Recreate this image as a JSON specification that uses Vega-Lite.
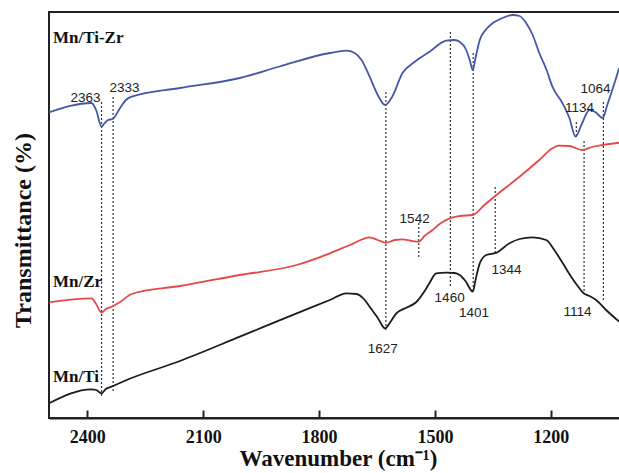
{
  "$schema": "https://vega.github.io/schema/vega-lite/v6.json",
  "autosize": {"type": "none"},
  "padding": {"left": 49, "top": 12, "right": 0, "bottom": 55},
  "width": 571,
  "height": 406,
  "background": "white",
  "config": {
    "view": {"stroke": "#222", "strokeWidth": 2},
    "font": "Liberation Serif"
  },
  "datasets": {
    "curves": [
      {"w": 2499, "t": 305.6, "series": "Mn/Ti-Zr"},
      {"w": 2389, "t": 315, "series": "Mn/Ti-Zr"},
      {"w": 2377, "t": 308, "series": "Mn/Ti-Zr"},
      {"w": 2363, "t": 291.3, "series": "Mn/Ti-Zr"},
      {"w": 2357, "t": 294, "series": "Mn/Ti-Zr"},
      {"w": 2346, "t": 298, "series": "Mn/Ti-Zr"},
      {"w": 2334, "t": 299, "series": "Mn/Ti-Zr"},
      {"w": 2315, "t": 310, "series": "Mn/Ti-Zr"},
      {"w": 2300, "t": 318, "series": "Mn/Ti-Zr"},
      {"w": 2285, "t": 321.3, "series": "Mn/Ti-Zr"},
      {"w": 2160, "t": 330, "series": "Mn/Ti-Zr"},
      {"w": 2005, "t": 340, "series": "Mn/Ti-Zr"},
      {"w": 1902, "t": 351.5, "series": "Mn/Ti-Zr"},
      {"w": 1772, "t": 365, "series": "Mn/Ti-Zr"},
      {"w": 1729, "t": 367.3, "series": "Mn/Ti-Zr"},
      {"w": 1708, "t": 365, "series": "Mn/Ti-Zr"},
      {"w": 1690, "t": 358, "series": "Mn/Ti-Zr"},
      {"w": 1669, "t": 341.3, "series": "Mn/Ti-Zr"},
      {"w": 1648, "t": 323, "series": "Mn/Ti-Zr"},
      {"w": 1629, "t": 313, "series": "Mn/Ti-Zr"},
      {"w": 1611, "t": 321, "series": "Mn/Ti-Zr"},
      {"w": 1584, "t": 345, "series": "Mn/Ti-Zr"},
      {"w": 1553, "t": 356, "series": "Mn/Ti-Zr"},
      {"w": 1514, "t": 366.3, "series": "Mn/Ti-Zr"},
      {"w": 1471, "t": 377.3, "series": "Mn/Ti-Zr"},
      {"w": 1449, "t": 378, "series": "Mn/Ti-Zr"},
      {"w": 1436, "t": 376.3, "series": "Mn/Ti-Zr"},
      {"w": 1419, "t": 368, "series": "Mn/Ti-Zr"},
      {"w": 1410, "t": 358, "series": "Mn/Ti-Zr"},
      {"w": 1402, "t": 348, "series": "Mn/Ti-Zr"},
      {"w": 1395, "t": 360, "series": "Mn/Ti-Zr"},
      {"w": 1384, "t": 378, "series": "Mn/Ti-Zr"},
      {"w": 1369, "t": 388, "series": "Mn/Ti-Zr"},
      {"w": 1351, "t": 394.7, "series": "Mn/Ti-Zr"},
      {"w": 1325, "t": 400, "series": "Mn/Ti-Zr"},
      {"w": 1299, "t": 403, "series": "Mn/Ti-Zr"},
      {"w": 1281, "t": 402, "series": "Mn/Ti-Zr"},
      {"w": 1264, "t": 395, "series": "Mn/Ti-Zr"},
      {"w": 1247, "t": 383, "series": "Mn/Ti-Zr"},
      {"w": 1230, "t": 365, "series": "Mn/Ti-Zr"},
      {"w": 1211, "t": 348, "series": "Mn/Ti-Zr"},
      {"w": 1196, "t": 331.3, "series": "Mn/Ti-Zr"},
      {"w": 1170, "t": 315, "series": "Mn/Ti-Zr"},
      {"w": 1152, "t": 300, "series": "Mn/Ti-Zr"},
      {"w": 1136, "t": 281.3, "series": "Mn/Ti-Zr"},
      {"w": 1121, "t": 293, "series": "Mn/Ti-Zr"},
      {"w": 1100, "t": 308, "series": "Mn/Ti-Zr"},
      {"w": 1085, "t": 306, "series": "Mn/Ti-Zr"},
      {"w": 1066, "t": 300, "series": "Mn/Ti-Zr"},
      {"w": 1054, "t": 313, "series": "Mn/Ti-Zr"},
      {"w": 1041, "t": 328, "series": "Mn/Ti-Zr"},
      {"w": 1023, "t": 350, "series": "Mn/Ti-Zr"},

      {"w": 2499, "t": 115.7, "series": "Mn/Zr"},
      {"w": 2389, "t": 119.7, "series": "Mn/Zr"},
      {"w": 2377, "t": 114, "series": "Mn/Zr"},
      {"w": 2363, "t": 105.3, "series": "Mn/Zr"},
      {"w": 2352, "t": 109, "series": "Mn/Zr"},
      {"w": 2337, "t": 111.3, "series": "Mn/Zr"},
      {"w": 2315, "t": 116, "series": "Mn/Zr"},
      {"w": 2285, "t": 124, "series": "Mn/Zr"},
      {"w": 2160, "t": 132, "series": "Mn/Zr"},
      {"w": 2005, "t": 143, "series": "Mn/Zr"},
      {"w": 1858, "t": 153, "series": "Mn/Zr"},
      {"w": 1772, "t": 164.7, "series": "Mn/Zr"},
      {"w": 1720, "t": 173, "series": "Mn/Zr"},
      {"w": 1669, "t": 180.7, "series": "Mn/Zr"},
      {"w": 1648, "t": 178, "series": "Mn/Zr"},
      {"w": 1626, "t": 175.3, "series": "Mn/Zr"},
      {"w": 1604, "t": 178, "series": "Mn/Zr"},
      {"w": 1584, "t": 178.7, "series": "Mn/Zr"},
      {"w": 1560, "t": 177, "series": "Mn/Zr"},
      {"w": 1542, "t": 176.3, "series": "Mn/Zr"},
      {"w": 1527, "t": 182, "series": "Mn/Zr"},
      {"w": 1506, "t": 188, "series": "Mn/Zr"},
      {"w": 1488, "t": 194, "series": "Mn/Zr"},
      {"w": 1462, "t": 199.7, "series": "Mn/Zr"},
      {"w": 1436, "t": 202, "series": "Mn/Zr"},
      {"w": 1402, "t": 203, "series": "Mn/Zr"},
      {"w": 1372, "t": 213, "series": "Mn/Zr"},
      {"w": 1341, "t": 223, "series": "Mn/Zr"},
      {"w": 1281, "t": 241.3, "series": "Mn/Zr"},
      {"w": 1230, "t": 258, "series": "Mn/Zr"},
      {"w": 1196, "t": 269.7, "series": "Mn/Zr"},
      {"w": 1179, "t": 272.3, "series": "Mn/Zr"},
      {"w": 1153, "t": 272, "series": "Mn/Zr"},
      {"w": 1119, "t": 268, "series": "Mn/Zr"},
      {"w": 1094, "t": 271, "series": "Mn/Zr"},
      {"w": 1066, "t": 273, "series": "Mn/Zr"},
      {"w": 1023, "t": 275.3, "series": "Mn/Zr"},

      {"w": 2499, "t": 14.7, "series": "Mn/Ti"},
      {"w": 2389, "t": 28.7, "series": "Mn/Ti"},
      {"w": 2377, "t": 28, "series": "Mn/Ti"},
      {"w": 2363, "t": 24.7, "series": "Mn/Ti"},
      {"w": 2352, "t": 29, "series": "Mn/Ti"},
      {"w": 2337, "t": 31.3, "series": "Mn/Ti"},
      {"w": 2298, "t": 38, "series": "Mn/Ti"},
      {"w": 2160, "t": 57, "series": "Mn/Ti"},
      {"w": 2005, "t": 81.3, "series": "Mn/Ti"},
      {"w": 1858, "t": 104.7, "series": "Mn/Ti"},
      {"w": 1772, "t": 118, "series": "Mn/Ti"},
      {"w": 1729, "t": 124.7, "series": "Mn/Ti"},
      {"w": 1703, "t": 124, "series": "Mn/Ti"},
      {"w": 1684, "t": 119, "series": "Mn/Ti"},
      {"w": 1669, "t": 111.3, "series": "Mn/Ti"},
      {"w": 1648, "t": 100, "series": "Mn/Ti"},
      {"w": 1629, "t": 89.7, "series": "Mn/Ti"},
      {"w": 1617, "t": 95, "series": "Mn/Ti"},
      {"w": 1600, "t": 104.7, "series": "Mn/Ti"},
      {"w": 1576, "t": 110, "series": "Mn/Ti"},
      {"w": 1548, "t": 116, "series": "Mn/Ti"},
      {"w": 1530, "t": 125, "series": "Mn/Ti"},
      {"w": 1514, "t": 135, "series": "Mn/Ti"},
      {"w": 1497, "t": 144.7, "series": "Mn/Ti"},
      {"w": 1471, "t": 145.3, "series": "Mn/Ti"},
      {"w": 1449, "t": 145, "series": "Mn/Ti"},
      {"w": 1436, "t": 143, "series": "Mn/Ti"},
      {"w": 1421, "t": 137, "series": "Mn/Ti"},
      {"w": 1402, "t": 126.3, "series": "Mn/Ti"},
      {"w": 1395, "t": 138, "series": "Mn/Ti"},
      {"w": 1384, "t": 154.7, "series": "Mn/Ti"},
      {"w": 1367, "t": 163, "series": "Mn/Ti"},
      {"w": 1341, "t": 165.3, "series": "Mn/Ti"},
      {"w": 1307, "t": 174.7, "series": "Mn/Ti"},
      {"w": 1281, "t": 179, "series": "Mn/Ti"},
      {"w": 1247, "t": 180.7, "series": "Mn/Ti"},
      {"w": 1212, "t": 178, "series": "Mn/Ti"},
      {"w": 1191, "t": 168, "series": "Mn/Ti"},
      {"w": 1169, "t": 154.7, "series": "Mn/Ti"},
      {"w": 1147, "t": 141, "series": "Mn/Ti"},
      {"w": 1126, "t": 129.7, "series": "Mn/Ti"},
      {"w": 1115, "t": 124.7, "series": "Mn/Ti"},
      {"w": 1100, "t": 122, "series": "Mn/Ti"},
      {"w": 1083, "t": 118, "series": "Mn/Ti"},
      {"w": 1057, "t": 108, "series": "Mn/Ti"},
      {"w": 1023, "t": 96.3, "series": "Mn/Ti"}
    ],
    "peaks": [
      {"w": 2363, "top": 316, "bottom": 21},
      {"w": 2333, "top": 321, "bottom": 26},
      {"w": 1627, "top": 326, "bottom": 88},
      {"w": 1460, "top": 386, "bottom": 131},
      {"w": 1401, "top": 365, "bottom": 128},
      {"w": 1344, "top": 231, "bottom": 164},
      {"w": 1542, "top": 195, "bottom": 160},
      {"w": 1134, "top": 296, "bottom": 280},
      {"w": 1114, "top": 277, "bottom": 125},
      {"w": 1064, "top": 316, "bottom": 118}
    ],
    "numbers": [
      {"w": 2404.7, "t": 316, "label": "2363"},
      {"w": 2303.8, "t": 326, "label": "2333"},
      {"w": 1552.6, "t": 195, "label": "1542"},
      {"w": 1125.9, "t": 306, "label": "1134"},
      {"w": 1084.5, "t": 325, "label": "1064"},
      {"w": 1635.3, "t": 65, "label": "1627"},
      {"w": 1462, "t": 116, "label": "1460"},
      {"w": 1398.7, "t": 101, "label": "1401"},
      {"w": 1314.7, "t": 144, "label": "1344"},
      {"w": 1131, "t": 102, "label": "1114"}
    ],
    "names": [
      {"w": 2488.7, "t": 375, "label": "Mn/Ti-Zr"},
      {"w": 2488.7, "t": 131, "label": "Mn/Zr"},
      {"w": 2488.7, "t": 36, "label": "Mn/Ti"}
    ]
  },
  "encoding": {
    "x": {
      "field": "w",
      "type": "quantitative",
      "scale": {"domain": [1021, 2499], "reverse": true, "nice": false, "zero": false},
      "axis": {
        "values": [2400, 2100, 1800, 1500, 1200],
        "format": "d",
        "grid": false,
        "domain": true,
        "domainColor": "#222",
        "domainWidth": 2,
        "ticks": true,
        "tickSize": -8,
        "tickWidth": 2,
        "tickColor": "#222",
        "labelPadding": 18,
        "labelFont": "Liberation Serif",
        "labelFontWeight": "bold",
        "labelFontSize": 18,
        "labelColor": "#111",
        "title": "Wavenumber (cm⁻¹)",
        "titleFont": "Liberation Serif",
        "titleFontWeight": "bold",
        "titleFontSize": 23,
        "titleColor": "#111",
        "titleX": 289,
        "titleY": 47,
        "titleAlign": "center",
        "titleBaseline": "alphabetic"
      }
    },
    "y": {
      "field": "t",
      "type": "quantitative",
      "scale": {"domain": [0, 406], "nice": false, "zero": false},
      "axis": {
        "labels": false,
        "ticks": false,
        "domain": false,
        "grid": false,
        "title": "Transmittance (%)",
        "titleFont": "Liberation Serif",
        "titleFontWeight": "bold",
        "titleFontSize": 24,
        "titleColor": "#111",
        "titleAngle": -90,
        "titleX": -26,
        "titleY": 218,
        "titleAlign": "center",
        "titleBaseline": "middle"
      }
    }
  },
  "layer": [
    {
      "data": {"name": "peaks"},
      "mark": {"type": "rule", "strokeDash": [2, 2], "strokeWidth": 1.2, "color": "#333"},
      "encoding": {
        "y": {"field": "top", "type": "quantitative"},
        "y2": {"field": "bottom"}
      }
    },
    {
      "data": {"name": "curves"},
      "mark": {"type": "line", "strokeWidth": 1.8, "interpolate": "monotone"},
      "encoding": {
        "color": {
          "field": "series",
          "type": "nominal",
          "scale": {"domain": ["Mn/Ti-Zr", "Mn/Zr", "Mn/Ti"], "range": ["#4657a8", "#e8474a", "#1c1c1c"]},
          "legend": null
        },
        "order": {"field": "w", "type": "quantitative"}
      }
    },
    {
      "data": {"name": "numbers"},
      "mark": {"type": "text", "font": "Liberation Sans", "fontSize": 13.5, "color": "#222", "align": "center", "baseline": "alphabetic"},
      "encoding": {"text": {"field": "label"}}
    },
    {
      "data": {"name": "names"},
      "mark": {"type": "text", "font": "Liberation Serif", "fontWeight": "bold", "fontSize": 17, "color": "#111", "align": "left", "baseline": "alphabetic"},
      "encoding": {"text": {"field": "label"}}
    }
  ]
}
